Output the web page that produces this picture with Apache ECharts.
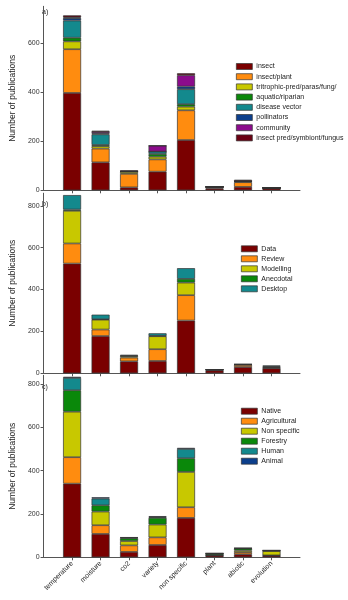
<!DOCTYPE html>
<html><head><meta charset="utf-8">
<script src="https://cdn.jsdelivr.net/npm/echarts@6/dist/echarts.min.js"></script>
<style>html,body{margin:0;padding:0;background:#fff}#c{width:348px;height:600px}</style>
</head><body><div id="c"></div>
<script>
const categories = ['temperature','moisture','co2','variety','non specific','plant','abiotic','evolution'];
const yTicksA = [0,200,400,600];
const yTicksBC = [0,200,400,600,800];

// Panel a
const aNames = ['insect','insect/plant','tritrophic-pred/paras/fung/','aquatic/riparian','disease vector','pollinators','community','insect pred/symbiont/fungus'];
const aInsect      = [397,114,12,76,205,8,14,10];
const aInsectPlant = [178, 56,55,50,121,5,19,0];
const aTritrophic  = [ 32, 10, 8,11, 15,1, 3,0];
const aAquatic     = [ 15,  5, 2,11, 10,0, 0,0];
const aDisease     = [ 70, 43, 0,10, 61,0, 0,0];
const aPollinators = [ 10,  4, 0, 0, 11,0, 0,0];
const aCommunity   = [  3,  6, 0,24, 46,0, 2,0];
const aInsectPred  = [  8,  5, 4, 0,  8,2, 5,2];

// Panel b
const bNames = ['Data','Review','Modelling','Anecdotal','Desktop'];
const bData      = [524,178,57,59,252,14,30,24];
const bReview    = [ 96, 31,18,56,121, 2,10, 2];
const bModelling = [156, 47, 7,62, 60, 2, 2, 4];
const bAnecdotal = [  6,  2, 2, 2, 18, 0, 1, 3];
const bDesktop   = [ 69, 22, 4,12, 51, 0, 0, 4];

// Panel c
const cNames = ['Native','Agricultural','Non specific','Forestry','Human','Animal'];
const cNative   = [340,108,25,57,182,9,14, 8];
const cAgri     = [122, 40,30,35, 49,1,10, 1];
const cNonSpec  = [210, 63,20,59,163,1, 8,20];
const cForestry = [ 99, 29,13,31, 63,7, 9, 1];
const cHuman    = [ 57, 31, 3, 4, 43,0, 1, 2];
const cAnimal   = [  5,  6, 1, 4,  5,0, 0, 0];

const COL = {maroon:'#7a0000', orange:'#ff8c0f', yellow:'#c8c800', green:'#0a880a', teal:'#13898d', navy:'#0c3f8c', purple:'#8c0c8c', dark:'#6a0012'};
const aColors = [COL.maroon,COL.orange,COL.yellow,COL.green,COL.teal,COL.navy,COL.purple,COL.dark];
const bColors = [COL.maroon,COL.orange,COL.yellow,COL.green,COL.teal];
const cColors = [COL.maroon,COL.orange,COL.yellow,COL.green,COL.teal,COL.navy];

const FONT = 'Liberation Sans, Arial, sans-serif';
const padCats = [''].concat(categories, ['']);
const pad = arr => [null].concat(arr, [null]);
const showIdx = (i) => i > 0 && i < padCats.length - 1;

const grids = [
  {left:37, top:6.3, width:263, height:184},
  {left:37, top:193.2, width:263, height:180.1},
  {left:37, top:375.3, width:263, height:182}
];
const ymax = [750, 860, 840];

const xAxes = grids.map((g,i)=>({
  type:'category', gridIndex:i, data:padCats, boundaryGap:false,
  axisLine:{lineStyle:{color:'#555', width:1}},
  axisTick:{show:true, length:3, interval:showIdx, lineStyle:{color:'#555'}},
  axisLabel:{show:i===2, interval:showIdx, rotate:45, fontSize:7, color:'#222', fontFamily:FONT, margin:5},
  splitLine:{show:false}
}));
const yAxes = grids.map((g,i)=>({
  type:'value', gridIndex:i, min:0, max:ymax[i],
  name:'Number of publications', nameLocation:'middle', nameGap:24,
  nameTextStyle:{fontSize:8.5, color:'#222', fontFamily:FONT},
  axisLine:{show:true, lineStyle:{color:'#555', width:1}},
  axisTick:{show:true, length:3, customValues:(i===0?yTicksA:yTicksBC), lineStyle:{color:'#555'}},
  axisLabel:{fontSize:7, color:'#333', fontFamily:FONT, margin:4, customValues:(i===0?yTicksA:yTicksBC)},
  splitLine:{show:false}
}));

function mk(names, colors, arrays, idx){
  return names.map((n,k)=>({
    name:n, type:'bar', stack:'s'+idx, xAxisIndex:idx, yAxisIndex:idx,
    barWidth:18, data:pad(arrays[k]),
    itemStyle:{color:colors[k], borderColor:'#333', borderWidth:0.7},
    emphasis:{disabled:true}
  }));
}
const series = [].concat(
  mk(aNames, aColors, [aInsect,aInsectPlant,aTritrophic,aAquatic,aDisease,aPollinators,aCommunity,aInsectPred], 0),
  mk(bNames, bColors, [bData,bReview,bModelling,bAnecdotal,bDesktop], 1),
  mk(cNames, cColors, [cNative,cAgri,cNonSpec,cForestry,cHuman,cAnimal], 2)
);

const legendBase = {orient:'vertical', icon:'rect', itemWidth:16, itemHeight:6, itemGap:3,
  textStyle:{fontSize:7, color:'#222', fontFamily:FONT, padding:[0,0,0,-1]},
  itemStyle:{borderColor:'#333', borderWidth:0.7}, selectedMode:false};
const legends = [
  Object.assign({}, legendBase, {data:aNames, left:231, top:58, itemGap:3.2}),
  Object.assign({}, legendBase, {data:bNames, left:236, top:240.3}),
  Object.assign({}, legendBase, {data:cNames, left:236, top:402.7})
];

const chart = echarts.init(document.getElementById('c'), null, {renderer:'canvas'});
chart.setOption({
  animation:false,
  backgroundColor:'#fff',
  grid:grids, xAxis:xAxes, yAxis:yAxes, legend:legends, series:series,
  graphic:[
    {type:'text', left:42, top:9, style:{text:'a)', fontSize:7, fill:'#222', fontFamily:FONT}},
    {type:'text', left:42, top:201, style:{text:'b)', fontSize:7, fill:'#222', fontFamily:FONT}},
    {type:'text', left:42, top:384, style:{text:'c)', fontSize:7, fill:'#222', fontFamily:FONT}}
  ]
});
</script></body></html>
